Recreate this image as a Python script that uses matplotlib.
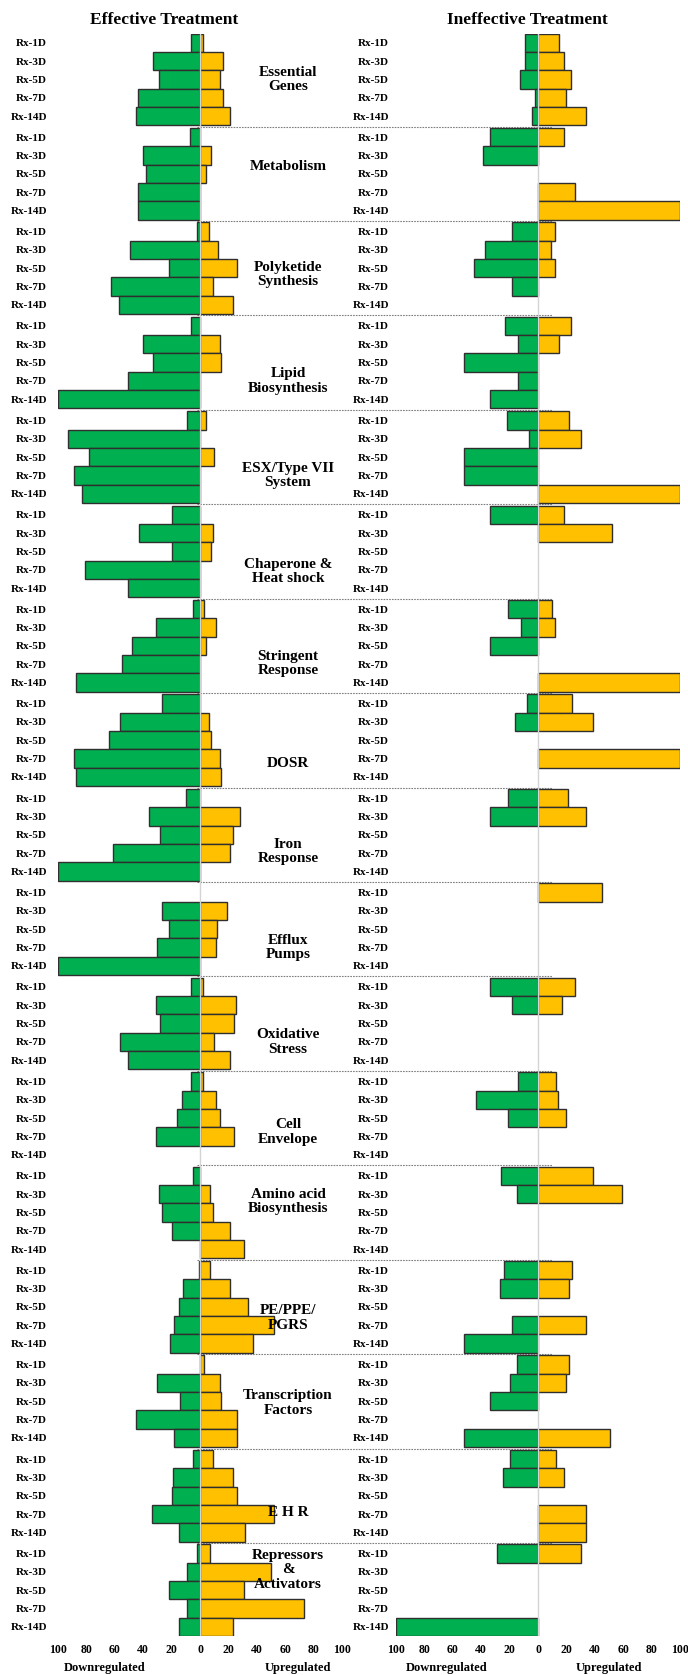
import matplotlib
matplotlib.use("Agg")
import matplotlib.pyplot as plt
import numpy as np

plt.rcParams["font.family"] = ["Liberation Serif", "DejaVu Serif"]
plt.rcParams["font.weight"] = "bold"

# Gene groups and sampling days
categories = [
    "Essential\nGenes", "Metabolism", "Polyketide\nSynthesis", "Lipid\nBiosynthesis",
    "ESX/Type VII\nSystem", "Chaperone &\nHeat shock", "Stringent\nResponse", "DOSR",
    "Iron\nResponse", "Efflux\nPumps", "Oxidative\nStress", "Cell\nEnvelope",
    "Amino acid\nBiosynthesis", "PE/PPE/\nPGRS", "Transcription\nFactors", "E H R",
    "Repressors\n&\nActivators",
]
timepoints = ["Rx-1D", "Rx-3D", "Rx-5D", "Rx-7D", "Rx-14D"]

# percent of genes down / up regulated, effective treatment
eff_down = [
    [6, 33, 29, 44, 45], [7, 40, 38, 44, 44], [2, 49, 22, 63, 57], [6, 40, 33, 51, 100],
    [9, 93, 78, 89, 83], [20, 43, 20, 81, 51], [5, 31, 48, 55, 87], [27, 56, 64, 89, 87],
    [10, 36, 28, 61, 100], [0, 27, 22, 30, 100], [6, 31, 28, 56, 51], [6, 13, 16, 31, 0],
    [5, 29, 27, 20, 0], [1, 12, 15, 18, 21], [0, 30, 14, 45, 18], [5, 19, 20, 34, 15],
    [2, 9, 22, 9, 15],
]
eff_up = [
    [2, 16, 14, 16, 21], [0, 8, 4, 0, 0], [6, 13, 26, 9, 23], [0, 14, 15, 0, 0],
    [4, 0, 10, 0, 0], [0, 9, 8, 0, 0], [3, 11, 4, 0, 0], [0, 6, 8, 14, 15],
    [0, 28, 23, 21, 0], [0, 19, 12, 11, 0], [2, 25, 24, 10, 21], [2, 11, 14, 24, 0],
    [0, 7, 9, 21, 31], [7, 21, 34, 52, 37], [3, 14, 15, 26, 26], [9, 23, 26, 52, 32],
    [7, 50, 31, 73, 23],
]

# ineffective treatment
ineff_down = [
    [9, 9, 13, 2, 4], [34, 39, 0, 0, 0], [18, 37, 45, 18, 0], [23, 14, 52, 14, 34],
    [22, 6, 52, 52, 0], [34, 0, 0, 0, 0], [21, 12, 34, 0, 0], [8, 16, 0, 0, 0],
    [21, 34, 0, 0, 0], [0, 0, 0, 0, 0], [34, 18, 0, 0, 0], [14, 44, 21, 0, 0],
    [26, 15, 0, 0, 0], [24, 27, 0, 18, 52], [15, 20, 34, 0, 52], [20, 25, 0, 0, 0],
    [29, 0, 0, 0, 100],
]
ineff_up = [
    [15, 18, 23, 20, 34], [18, 0, 0, 26, 100], [12, 9, 12, 0, 0], [23, 15, 0, 0, 0],
    [22, 30, 0, 0, 100], [18, 52, 0, 0, 0], [10, 12, 0, 0, 100], [24, 39, 0, 100, 0],
    [21, 34, 0, 0, 0], [45, 0, 0, 0, 0], [26, 17, 0, 0, 0], [13, 14, 20, 0, 0],
    [39, 59, 0, 0, 0], [24, 22, 0, 34, 0], [22, 20, 0, 0, 51], [13, 18, 0, 34, 34],
    [30, 0, 0, 0, 0],
]

# where each group label sits, in rows from the group's first row
label_rows = [2.0, 1.6, 2.35, 3.0, 3.0, 3.1, 2.95, 3.25, 2.9, 3.0, 3.0, 2.75, 1.4, 2.6, 2.1, 2.9, 0.9]

GREEN = "#00B050"
GOLD = "#FFC000"
EDGE = "#2f2f2f"
GAP = 0.15
n_rows = len(timepoints)
group_step = n_rows + GAP

y = np.array([[g * group_step + r for r in range(n_rows)] for g in range(len(categories))])
y_flat = y.ravel()
row_labels = timepoints * len(categories)

W, H = 688, 1675
fig = plt.figure(figsize=(W / 100, H / 100), dpi=100)
ax_top = 1 - 33.5 / H
ax_bot = 1 - 1636 / H
ax_l = fig.add_axes([58 / W, ax_bot, 284 / W, ax_top - ax_bot])
ax_r = fig.add_axes([396 / W, ax_bot, 284 / W, ax_top - ax_bot])


def draw_panel(ax, down, up, pad):
    down = np.asarray(down, float).ravel()
    up = np.asarray(up, float).ravel()
    m = down > 0
    ax.barh(y_flat[m], -down[m], height=1.0, color=GREEN, edgecolor=EDGE, linewidth=1.0, zorder=2)
    m = up > 0
    ax.barh(y_flat[m], up[m], height=1.0, color=GOLD, edgecolor=EDGE, linewidth=1.0, zorder=2)
    ax.axvline(0, color="#d4d4d4", linewidth=1.0, zorder=3)
    ax.set_xlim(-100, 100)
    ax.set_ylim(y_flat[-1] + 0.5, -0.5)
    ticks = np.arange(-100, 101, 20)
    ax.set_xticks(ticks)
    ax.set_xticklabels([str(abs(t)) for t in ticks], fontsize=8.5, fontweight="bold")
    ax.set_yticks(y_flat)
    ax.set_yticklabels(row_labels, fontsize=8, fontweight="bold")
    ax.tick_params(axis="x", length=0, pad=6)
    ax.tick_params(axis="y", length=0, pad=pad)
    for s in ax.spines.values():
        s.set_visible(False)
    ax.patch.set_alpha(0)


draw_panel(ax_l, eff_down, eff_up, pad=8)
draw_panel(ax_r, ineff_down, ineff_up, pad=5)

# dotted separators between groups, running across to the right panel
for g in range(1, len(categories)):
    yy = g * group_step - 0.5 - GAP / 2
    ax_l.plot([-2, 248], [yy, yy], color="#7f7f7f", linewidth=0.8,
              linestyle=(0, (1.5, 1)), clip_on=False, zorder=1)

for g, name in enumerate(categories):
    ax_l.text(62, g * group_step + label_rows[g], name, ha="center", va="center",
              fontsize=11, fontweight="bold", linespacing=1.15, clip_on=False)

fig.text(164 / W, 1 - 20 / H, "Effective Treatment", ha="center", va="center",
         fontsize=12.5, fontweight="bold")
fig.text(527 / W, 1 - 20 / H, "Ineffective Treatment", ha="center", va="center",
         fontsize=12.5, fontweight="bold")

for x, txt in [(105, "Downregulated"), (298, "Upregulated"),
               (447, "Downregulated"), (609, "Upregulated")]:
    fig.text(x / W, 1 - 1668 / H, txt, ha="center", va="center",
             fontsize=9, fontweight="bold")

fig.savefig("out.png", dpi=100)
